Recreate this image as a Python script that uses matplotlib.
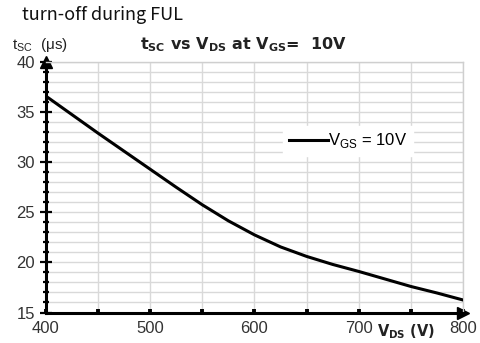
import matplotlib

matplotlib.use("Agg")
import matplotlib.pyplot as plt
from matplotlib.ticker import MultipleLocator

# values every 25 V
vds = [400, 425, 450, 475, 500, 525, 550, 575, 600, 625, 650, 675, 700, 725, 750, 775, 800]
tsc = [36.6, 34.75, 32.9, 31.1, 29.3, 27.5, 25.75, 24.15, 22.75, 21.55, 20.6, 19.8, 19.1,
       18.35, 17.6, 16.95, 16.25]

x_ticks = [400, 500, 600, 700, 800]
y_ticks = [15, 20, 25, 30, 35, 40]

plt.rcParams["font.family"] = ["Liberation Sans", "DejaVu Sans"]

fig = plt.figure(figsize=(4.81, 3.43), dpi=100)
ax = fig.add_axes([0.0956, 0.0889, 0.867, 0.730])

ax.plot(vds, tsc, color="black", lw=2.2, label=r"V$_{\mathregular{GS}}$ = 10V", zorder=3,
        solid_joinstyle="round")

ax.set_xlim(400, 800)
ax.set_ylim(15, 40)
ax.set_xticks(x_ticks)
ax.set_yticks(y_ticks)
ax.xaxis.set_minor_locator(MultipleLocator(50))
ax.yaxis.set_minor_locator(MultipleLocator(1))
ax.grid(True, which="both", color="#d9d9d9", lw=1.0)
ax.set_axisbelow(True)

for side in ("top", "right"):
    ax.spines[side].set_color("#cfcfcf")
    ax.spines[side].set_linewidth(1.0)
for side in ("left", "bottom"):
    ax.spines[side].set_color("black")
    ax.spines[side].set_linewidth(2.2)

ax.tick_params(axis="y", which="major", direction="inout", length=8, width=1.6,
               labelsize=12, labelcolor="#333333", pad=4)
ax.tick_params(axis="y", which="minor", direction="inout", length=5, width=1.6)
ax.tick_params(axis="x", which="both", direction="in", length=3, width=2.8,
               labelsize=12, labelcolor="#333333", pad=6)

# arrow heads on the axes
ax.plot(1, 0, ">k", ms=9, transform=ax.transAxes, clip_on=False)
ax.plot(0, 1, "^k", ms=9, transform=ax.transAxes, clip_on=False)

leg = ax.legend(loc="center", bbox_to_anchor=(0.725, 0.685), frameon=True, fontsize=12,
                handlelength=2.3, handletextpad=0.05, borderpad=0.35, fancybox=False,
                borderaxespad=0)
leg.get_frame().set_edgecolor("white")
leg.get_frame().set_facecolor("white")
leg.get_frame().set_alpha(1)

fig.text(0.291, 0.869, r"t$_{\mathregular{SC}}$ vs V$_{\mathregular{DS}}$ at V$_{\mathregular{GS}}$=  10V",
         fontsize=11.5, fontweight="bold", color="#222222", va="center",
         family=["DejaVu Sans"])
fig.text(0.025, 0.869, r"t$_{\mathregular{SC}}$  ($\mathregular{\mu}$s)", fontsize=11,
         color="#222222", va="center")
fig.text(0.783, 0.032, r"V$_{\mathregular{DS}}$ (V)", fontsize=10.5, fontweight="bold",
         color="#222222", va="center", family=["DejaVu Sans"])
fig.text(0.046, 0.956, "turn-off during FUL", fontsize=13, va="center",
         family=["Noto Sans CJK KR", "DejaVu Sans"], color="#111111")

fig.savefig("out.png", dpi=100)
